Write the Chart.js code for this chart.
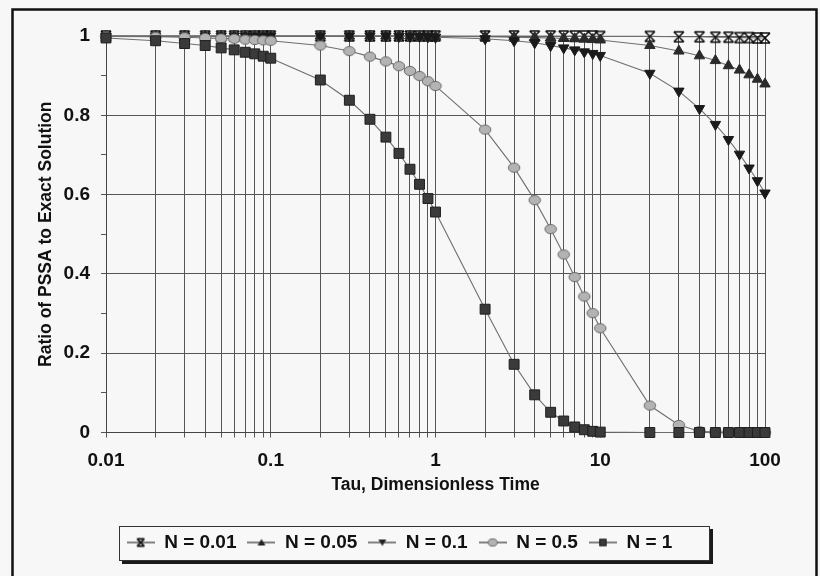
<!DOCTYPE html>
<html>
<head>
<meta charset="utf-8">
<script src="https://cdn.jsdelivr.net/npm/chart.js@4.4.1/dist/chart.umd.min.js"></script>
<style>
  html, body { margin: 0; padding: 0; background: #f7f7f7; }
  #contenedor { width: 820px; height: 576px; }
</style>
</head>
<body>
<div id="contenedor"><canvas id="grafico"></canvas></div>
<script>
// Tau (tiempo adimensional) en escala logarítmica
const tau = [0.01, 0.02, 0.03, 0.04, 0.05, 0.06, 0.07, 0.08, 0.09,
             0.1, 0.2, 0.3, 0.4, 0.5, 0.6, 0.7, 0.8, 0.9,
             1, 2, 3, 4, 5, 6, 7, 8, 9,
             10, 20, 30, 40, 50, 60, 70, 80, 90, 100];
const etiquetasX = [0.01, 0.1, 1, 10, 100]; // solo las décadas llevan texto
const etiquetasY = [0, 0.2, 0.4, 0.6, 0.8, 1];
const nombres = ["N = 0.01", "N = 0.05", "N = 0.1", "N = 0.5", "N = 1"];

// Razón PSSA / solución exacta
const n001 = [1, 1, 1, 1, 1, 1, 1, 1, 1,
              1, 1, 1, 1, 1, 1, 1, 1, 1,
              1, 1, 1, 1, 1, 1, 1, 1, 1,
              0.999, 0.999, 0.998, 0.998, 0.997, 0.997, 0.996, 0.996, 0.995, 0.995];
const n005 = [1, 1, 1, 1, 1, 1, 1, 1, 1,
              1, 1, 1, 1, 1, 1, 1, 0.999, 0.999,
              0.999, 0.998, 0.997, 0.996, 0.995, 0.994, 0.993, 0.992, 0.991,
              0.990, 0.976, 0.962, 0.950, 0.938, 0.925, 0.914, 0.902, 0.891, 0.879];
const n01 = [1, 1, 1, 1, 1, 1, 1, 1, 1,
             1, 1, 1, 1, 1, 0.999, 0.999, 0.999, 0.998,
             0.997, 0.993, 0.988, 0.983, 0.976, 0.970, 0.965, 0.960, 0.956,
             0.951, 0.906, 0.861, 0.817, 0.777, 0.739, 0.702, 0.667, 0.635, 0.604];
const n05 = [0.999, 0.998, 0.997, 0.995, 0.994, 0.993, 0.991, 0.990, 0.989,
             0.988, 0.976, 0.962, 0.948, 0.936, 0.924, 0.912, 0.899, 0.886,
             0.874, 0.764, 0.668, 0.586, 0.513, 0.449, 0.392, 0.343, 0.301,
             0.263, 0.068, 0.019, 0.003, 0.001, 0, 0, 0, 0, 0];
const n1 = [0.995, 0.988, 0.981, 0.976, 0.970, 0.965, 0.959, 0.955, 0.949,
            0.944, 0.889, 0.838, 0.790, 0.745, 0.704, 0.664, 0.626, 0.590,
            0.556, 0.311, 0.172, 0.095, 0.051, 0.029, 0.014, 0.007, 0.003,
            0.001, 0, 0, 0, 0, 0, 0, 0, 0, 0];

const fuente = "'Liberation Sans', Arial, sans-serif";
const colorTexto = "#111";
const colorLinea = "#6e6e6e";
const colorRejilla = "#555";

// Dibuja un marcador sobre un canvas (para la serie N = 0.01 y para la leyenda)
function dibujarMarcador(ctx, tipo, cx, cy, t) {
  ctx.lineWidth = 1;
  if (tipo === "reloj") {
    ctx.strokeStyle = "#111";
    ctx.lineWidth = 1.6;
    ctx.beginPath();
    ctx.moveTo(cx - t, cy - t); ctx.lineTo(cx + t, cy - t);
    ctx.moveTo(cx - t, cy + t); ctx.lineTo(cx + t, cy + t);
    ctx.moveTo(cx - t, cy - t); ctx.lineTo(cx + t, cy + t);
    ctx.moveTo(cx + t, cy - t); ctx.lineTo(cx - t, cy + t);
    ctx.stroke();
  } else if (tipo === "arriba" || tipo === "abajo") {
    const s = tipo === "arriba" ? 1 : -1;
    ctx.fillStyle = "#222";
    ctx.beginPath();
    ctx.moveTo(cx, cy - s * t);
    ctx.lineTo(cx + t * 1.1, cy + s * t * 0.8);
    ctx.lineTo(cx - t * 1.1, cy + s * t * 0.8);
    ctx.closePath();
    ctx.fill();
  } else if (tipo === "elipse") {
    ctx.fillStyle = "#b3b3b3";
    ctx.strokeStyle = "#6a6a6a";
    ctx.beginPath();
    ctx.ellipse(cx, cy, t * 1.25, t, 0, 0, Math.PI * 2);
    ctx.fill();
    ctx.stroke();
  } else {
    ctx.fillStyle = "#3a3a3a";
    ctx.strokeStyle = "#222";
    ctx.fillRect(cx - t, cy - t, 2 * t, 2 * t);
    ctx.strokeRect(cx - t + 0.5, cy - t + 0.5, 2 * t - 1, 2 * t - 1);
  }
}

function crearImagen(tipo, ancho, alto, t, conLinea) {
  const c = document.createElement("canvas");
  c.width = ancho; c.height = alto;
  const ctx = c.getContext("2d");
  if (conLinea) {
    ctx.strokeStyle = "#333";
    ctx.lineWidth = 1.2;
    ctx.beginPath();
    ctx.moveTo(0, alto / 2); ctx.lineTo(ancho, alto / 2);
    ctx.stroke();
  }
  dibujarMarcador(ctx, tipo, ancho / 2, alto / 2, t);
  return c;
}

const tiposLeyenda = ["reloj", "arriba", "abajo", "elipse", "cuadro"];
const imagenesLeyenda = tiposLeyenda.map(t => crearImagen(t, 28, 14, 3.6, true));
const imagenReloj = crearImagen("reloj", 14, 14, 5, false);
const imagenElipse = crearImagen("elipse", 16, 12, 4.6, false);

const puntos = (valores) => valores.map((v, i) => ({ x: tau[i], y: v }));

const serieBase = {
  borderColor: colorLinea,
  borderWidth: 1.1,
  tension: 0,
  clip: false,
  pointBorderWidth: 1,
};

const conjuntos = [
  { ...serieBase, label: nombres[0], data: puntos(n001), order: 4,
    pointStyle: imagenReloj, pointRadius: 6 },
  { ...serieBase, label: nombres[1], data: puntos(n005), order: 3,
    pointStyle: "triangle", pointRadius: 6, pointBackgroundColor: "#2a2a2a", pointBorderColor: "#2a2a2a" },
  { ...serieBase, label: nombres[2], data: puntos(n01), order: 2,
    pointStyle: "triangle", pointRotation: 180, pointRadius: 6, pointBackgroundColor: "#1a1a1a", pointBorderColor: "#1a1a1a" },
  { ...serieBase, label: nombres[3], data: puntos(n05), order: 1,
    pointStyle: imagenElipse, pointRadius: 6 },
  { ...serieBase, label: nombres[4], data: puntos(n1), order: 0,
    pointStyle: "rect", pointRadius: 7, pointBackgroundColor: "#3a3a3a", pointBorderColor: "#1e1e1e" },
];

const esMayorY = v => etiquetasY.some(e => Math.abs(e - v) < 1e-6);

// Fondo, marco exterior y recuadro de la leyenda
const marco = {
  id: "marco",
  afterLayout(chart) {
    chart.legend.left += 7;
    chart.legend.right += 7;
  },
  beforeDraw(chart) {
    const ctx = chart.ctx;
    ctx.save();
    ctx.fillStyle = "#f7f7f7";
    ctx.fillRect(0, 0, chart.width, chart.height);
    ctx.strokeStyle = "#111";
    ctx.lineWidth = 2.5;
    ctx.strokeRect(12.5, 9.5, 804, 600);

    const ley = chart.legend;
    const p = ley.options.labels.padding;
    const inicio = (ley.left + p + ley.right - ley.lineWidths[0]) / 2;
    const fin = inicio + ley.lineWidths[0] - p;
    const x0 = Math.round(inicio - 8), x1 = Math.round(fin + 38);
    const y0 = Math.round(ley.top + 4), y1 = Math.round(ley.bottom - 1);
    ctx.fillStyle = "#1a1a1a";
    ctx.fillRect(x0 + 3, y0 + 3, x1 - x0, y1 - y0);
    ctx.fillStyle = "#f8f8f8";
    ctx.fillRect(x0, y0, x1 - x0, y1 - y0);
    ctx.lineWidth = 1;
    ctx.strokeStyle = "#333";
    ctx.strokeRect(x0 + 0.5, y0 + 0.5, x1 - x0 - 1, y1 - y0 - 1);
    ctx.restore();
  }
};

const ctx = document.getElementById("grafico").getContext("2d");
const grafico = new Chart(ctx, {
  type: "line",
  data: { datasets: conjuntos },
  plugins: [marco],
  options: {
    responsive: true,
    maintainAspectRatio: false,
    animation: false,
    layout: { padding: { left: 20, right: 55, top: 36, bottom: 14 } },
    plugins: {
      tooltip: { enabled: false },
      legend: {
        position: "bottom",
        labels: {
          usePointStyle: true,
          pointStyleWidth: 28,
          padding: 11,
          color: colorTexto,
          font: { family: fuente, size: 19, weight: "bold" },
          generateLabels: (chart) => chart.data.datasets.map((d, i) => ({
            text: d.label,
            pointStyle: imagenesLeyenda[i],
            fillStyle: "#333",
            strokeStyle: "#333",
            lineWidth: 0,
            hidden: false,
            datasetIndex: i,
            fontColor: colorTexto,
          })),
        },
      },
    },
    scales: {
      x: {
        type: "logarithmic",
        min: 0.01,
        max: 100,
        afterBuildTicks: (escala) => { escala.ticks = tau.map(v => ({ value: v })); },
        afterFit: (escala) => { escala.height = 89.5; },
        ticks: {
          autoSkip: false,
          maxRotation: 0,
          padding: 12,
          color: colorTexto,
          font: { family: fuente, size: 19, weight: "bold" },
          callback: (v) => etiquetasX.includes(v) ? String(v) : "",
        },
        grid: { color: colorRejilla, lineWidth: 1, tickLength: 5 },
        border: { color: "#444", width: 1 },
        title: {
          display: true,
          text: "Tau, Dimensionless Time",
          color: colorTexto,
          font: { family: fuente, size: 17.5, weight: "bold" },
          padding: { top: 0, bottom: 26 },
        },
      },
      y: {
        min: 0,
        max: 1,
        afterFit: (escala) => { escala.width = 86; },
        ticks: {
          stepSize: 0.1,
          padding: 11,
          color: colorTexto,
          font: { family: fuente, size: 19, weight: "bold" },
          callback: (v) => esMayorY(v) ? String(Math.round(v * 10) / 10) : "",
        },
        grid: {
          color: (c) => esMayorY(c.tick.value) ? colorRejilla : "rgba(0,0,0,0)",
          tickColor: colorRejilla,
          lineWidth: 1,
          tickLength: 5,
        },
        border: { color: "#444", width: 1 },
        title: {
          display: true,
          text: "Ratio of PSSA to Exact Solution",
          color: colorTexto,
          font: { family: fuente, size: 17.5, weight: "bold" },
          padding: { top: 16, bottom: 0 },
        },
      },
    },
  },
});
</script>
</body>
</html>
